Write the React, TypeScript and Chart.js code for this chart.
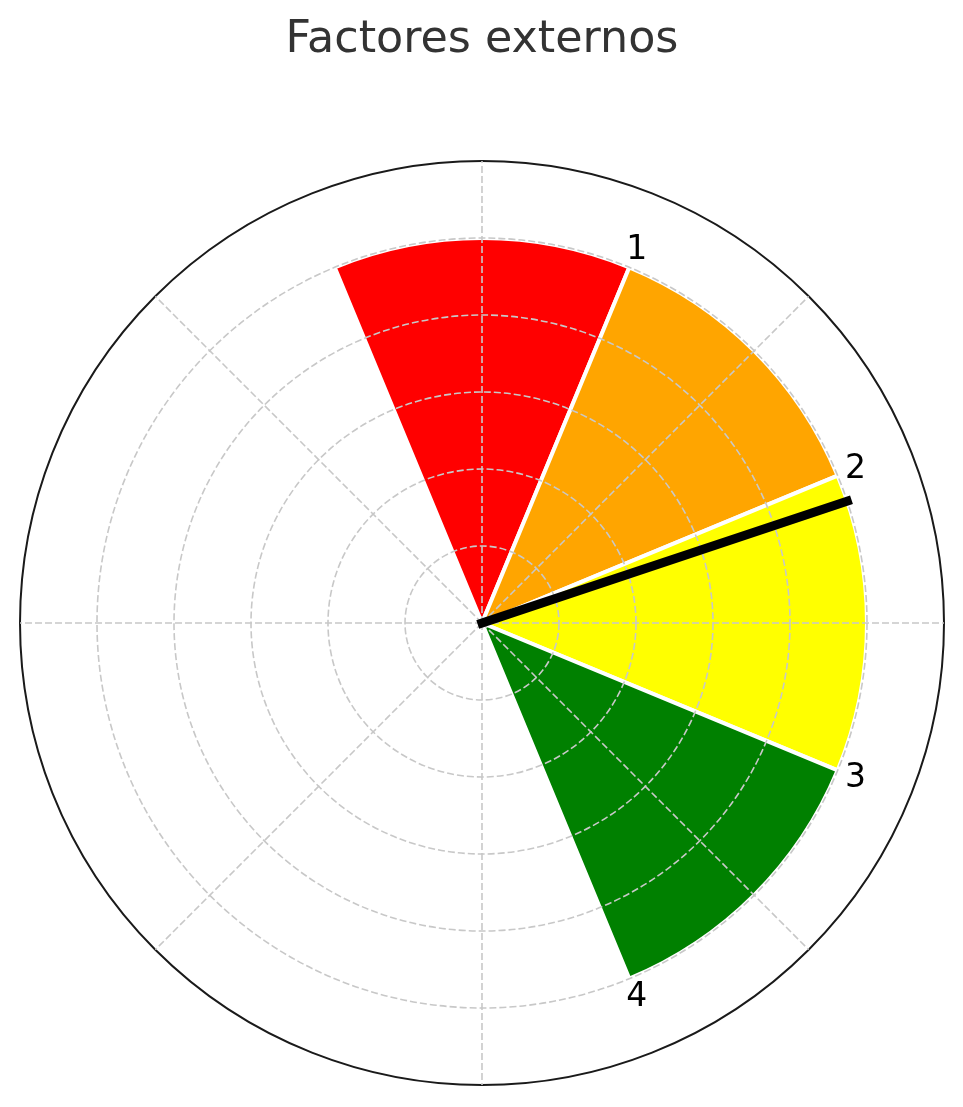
import { useEffect, useRef } from 'react';
import { Chart, registerables } from 'chart.js';

Chart.register(...registerables);

// ---- data ----
const chartTitle = 'Factores externos';
const zoneLabels = ['1', '2', '3', '4']; // labels at the end boundary of each zone
const zoneValues = [1, 1, 1, 1]; // radial extent of each zone
const zoneColors = ['#ff0000', '#ffa500', '#ffff00', '#008000'];
const angleLineLabels = ['0°', '45°', '90°', '135°', '180°', '225°', '270°', '315°'];
const needleValue = 2.09; // position on the 0..4 zone scale
const needleLength = 1.0;
const labelRadius = 1.05;
const radialMax = 1.2;
const radialStep = 0.2;

// gauge geometry (Chart.js angles: degrees clockwise from top)
const gaugeStartDeg = -22.5;
const zoneWidthDeg = 45;

const toRad = (d: number) => (d * Math.PI) / 180;

const spacerDeg = (360 + gaugeStartDeg) % 360;
const dataValues = [0, ...zoneValues];
const dataAngles = [spacerDeg, ...zoneValues.map(() => zoneWidthDeg)];
const dataColors = ['rgba(0,0,0,0)', ...zoneColors];
const dataBorders = [0, ...zoneValues.map(() => 4)];

const isOuter = (c: any) => c && c.tick && c.tick.value >= radialMax - 1e-9;

const overlayPlugin = {
  id: 'gaugeOverlay',
  afterDraw(chart: any) {
    const scale = chart.scales.r;
    const ctx = chart.ctx as CanvasRenderingContext2D;
    ctx.save();
    ctx.font = '33px "DejaVu Sans"';
    ctx.fillStyle = '#000000';
    ctx.textAlign = 'center';
    ctx.textBaseline = 'alphabetic';
    zoneLabels.forEach((lab, i) => {
      const deg = gaugeStartDeg + zoneWidthDeg * (i + 1);
      const p = scale.getPointPosition(0, scale.getDistanceFromCenterForValue(labelRadius), toRad(deg));
      ctx.fillText(lab, p.x, p.y + 9.5);
    });
    const nd = gaugeStartDeg + zoneWidthDeg * needleValue;
    const end = scale.getPointPosition(0, scale.getDistanceFromCenterForValue(needleLength), toRad(nd));
    ctx.beginPath();
    ctx.moveTo(scale.xCenter, scale.yCenter);
    ctx.lineTo(end.x, end.y);
    ctx.lineWidth = 9;
    ctx.strokeStyle = '#000000';
    ctx.lineCap = 'square';
    ctx.stroke();
    ctx.restore();
  },
};

export default function App() {
  const ref = useRef<HTMLCanvasElement | null>(null);
  useEffect(() => {
    if (!ref.current) return;
    const chart = new Chart(ref.current, {
      type: 'polarArea',
      data: {
        labels: angleLineLabels,
        datasets: [
          {
            data: dataValues,
            backgroundColor: dataColors,
            borderColor: '#ffffff',
            borderWidth: (c: any) => dataBorders[c.dataIndex],
            angle: (c: any) => dataAngles[c.dataIndex],
          } as any,
        ],
      },
      options: {
        responsive: false,
        animation: false,
        events: [],
        layout: { padding: { left: 20, right: 19, top: 0, bottom: 21 } },
        plugins: {
          legend: { display: false },
          tooltip: { enabled: false },
          title: {
            display: true,
            text: chartTitle,
            color: '#333333',
            font: { family: '"DejaVu Sans"', size: 44.4, weight: 'normal' as any },
            padding: { top: 14, bottom: 94.7 },
          },
        },
        scales: {
          r: {
            min: 0,
            max: radialMax,
            startAngle: 0,
            ticks: { display: false, stepSize: radialStep, z: 1 } as any,
            grid: {
              circular: true,
              z: 1,
              color: (c: any) => (isOuter(c) ? '#1a1a1a' : '#c8c8c8'),
              lineWidth: (c: any) => (isOuter(c) ? 2 : 1.6),
            } as any,
            border: { z: 1, dash: (c: any) => (isOuter(c) ? [] : [7, 3]) } as any,
            angleLines: { display: true, color: '#c8c8c8', lineWidth: 1.6, borderDash: [7, 3] },
            pointLabels: { display: false },
          },
        },
      },
      plugins: [overlayPlugin],
    });
    return () => chart.destroy();
  }, []);
  return (
    <div style={{ position: 'fixed', left: 0, top: 0, width: 963, height: 1107, background: '#ffffff' }}>
      <canvas ref={ref} width={963} height={1107} />
    </div>
  );
}
